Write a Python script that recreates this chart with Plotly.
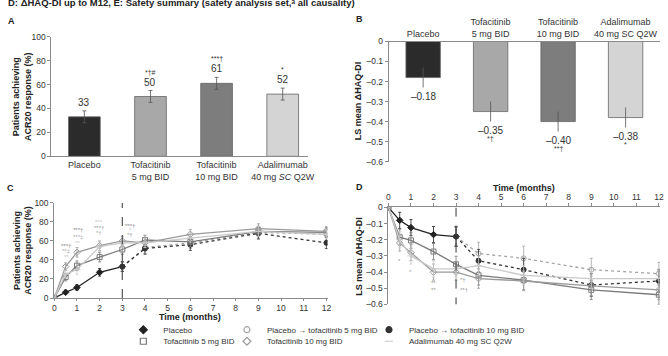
import plotly.graph_objects as go

W, H = 668, 356

# ---------------- data ----------------
bar_cats_a = ["Placebo", "Tofacitinib<br>5 mg BID", "Tofacitinib<br>10 mg BID", "Adalimumab<br>40 mg <i>SC</i> Q2W"]
acr20_pct = [33, 50, 61, 52]
acr20_err = [5, 5, 5, 5]
acr20_sig = ["", "*†#", "***†", "*"]

bar_cats_b = ["Placebo", "Tofacitinib<br>5 mg BID", "Tofacitinib<br>10 mg BID", "Adalimumab<br>40 mg SC Q2W"]
haq_change = [-0.18, -0.35, -0.40, -0.38]
haq_err = [0.05, 0.05, 0.05, 0.05]
haq_sig = ["", "*†", "**†", "*"]

bar_colors = ["#2b2b2b", "#a8a8a8", "#7d7d7d", "#d4d4d4"]

months = [0, 0.5, 1, 2, 3, 4, 6, 9, 12]
months_pbo = [0, 0.5, 1, 2, 3]
months_switch = [3, 4, 6, 9, 12]

acr_placebo = [0, 6, 11, 27, 33]
acr_placebo_err = [0, 2, 3, 4, 5]
acr_pbo_t5 = [33, 53, 58, 69, 67]
acr_pbo_t5_err = [5, 6, 6, 6, 6]
acr_pbo_t10 = [33, 52, 56, 68, 58]
acr_pbo_t10_err = [5, 6, 6, 6, 6]
acr_t5 = [0, 22, 34, 43, 51, 61, 59, 70, 69]
acr_t5_err = [0, 4, 5, 5, 5, 5, 5, 5, 5]
acr_t10 = [0, 33, 48, 55, 60, 58, 67, 73, 70]
acr_t10_err = [0, 4, 5, 5, 5, 5, 5, 5, 5]
acr_ada = [0, 25, 30, 54, 58, 58, 63, 70, 67]
acr_ada_err = [0, 4, 5, 5, 5, 5, 5, 5, 5]

haq_placebo = [0, -0.08, -0.125, -0.168, -0.18]
haq_placebo_err = [0, 0.05, 0.05, 0.05, 0.06]
haq_pbo_t5 = [-0.18, -0.285, -0.315, -0.385, -0.41]
haq_pbo_t5_err = [0.06, 0.07, 0.075, 0.07, 0.07]
haq_pbo_t10 = [-0.18, -0.33, -0.385, -0.48, -0.455]
haq_pbo_t10_err = [0.06, 0.07, 0.07, 0.07, 0.07]
haq_t5 = [0, -0.184, -0.204, -0.273, -0.352, -0.42, -0.45, -0.51, -0.54]
haq_t5_err = [0, 0.05, 0.05, 0.05, 0.05, 0.06, 0.06, 0.06, 0.06]
haq_t10 = [0, -0.22, -0.28, -0.40, -0.40, -0.44, -0.455, -0.485, -0.51]
haq_t10_err = [0, 0.05, 0.05, 0.05, 0.05, 0.06, 0.06, 0.06, 0.06]
haq_ada = [0, -0.20, -0.30, -0.38, -0.38, -0.36, -0.42, -0.44, -0.44]
haq_ada_err = [0, 0.05, 0.05, 0.05, 0.05, 0.06, 0.06, 0.06, 0.06]

sig_c_x = [0.52, 0.52, 0.52, 1.03, 1.03, 1.03, 1.96, 1.96, 1.96, 3.35, 3.35, 3.35]
sig_c_y = [55, 49, 43, 71, 64, 58, 80, 74, 68, 76, 71, 66]
sig_c_text = ["***†", "**‡", "**", "***†", "***‡", "**", "***", "***†", "*†", "***†", "*", "*†"]
sig_c_color = ["#888", "#aaa", "#c4c4c4", "#888", "#aaa", "#c4c4c4", "#c4c4c4", "#999", "#aaa", "#888", "#c4c4c4", "#999"]

sig_d_x = [0.5, 1.0, 2.0, 2.0, 3.3, 3.35]
sig_d_y = [-0.33, -0.40, -0.47, -0.51, -0.45, -0.51]
sig_d_text = ["*", "*", "**", "**", "*†", "**†"]

haq_ticks = [0, -0.1, -0.2, -0.3, -0.4, -0.5, -0.6]
haq_ticktext = ["0", "–0.1", "–0.2", "–0.3", "–0.4", "–0.5", "–0.6"]

FONT = "Arial, Liberation Sans, sans-serif"
AX = "#8a8a8a"


def fx(p):
    return p / W


def fy(p):
    return 1 - p / H


fig = go.Figure()

# ---------------- Panel A ----------------
fig.add_trace(go.Bar(
    x=bar_cats_a, y=acr20_pct, marker=dict(color=bar_colors, line=dict(color="#666", width=0.8)),
    width=0.48, error_y=dict(type="data", array=acr20_err, color="#555", thickness=0.8, width=2),
    xaxis="x", yaxis="y", showlegend=False))

# ---------------- Panel B ----------------
fig.add_trace(go.Bar(
    x=bar_cats_b, y=haq_change, marker=dict(color=bar_colors, line=dict(color="#666", width=0.8)),
    width=0.51, error_y=dict(type="data", array=haq_err, color="#555", thickness=0.8, width=0),
    xaxis="x2", yaxis="y2", showlegend=False))

# ---------------- Panels C / D ----------------
series = [
    ("Placebo", months_pbo, acr_placebo, acr_placebo_err, haq_placebo, haq_placebo_err, "#222", "diamond", "solid", "legend"),
    ("Placebo → tofacitinib 5 mg BID", months_switch, acr_pbo_t5, acr_pbo_t5_err, haq_pbo_t5, haq_pbo_t5_err, "#a5a5a5", "circle-open", "dot", "legend2"),
    ("Placebo → tofacitinib 10 mg BID", months_switch, acr_pbo_t10, acr_pbo_t10_err, haq_pbo_t10, haq_pbo_t10_err, "#333", "circle", "dot", "legend3"),
    ("Tofacitinib 5 mg BID", months, acr_t5, acr_t5_err, haq_t5, haq_t5_err, "#7a7a7a", "square-open", "solid", "legend4"),
    ("Tofacitinib 10 mg BID", months, acr_t10, acr_t10_err, haq_t10, haq_t10_err, "#9a9a9a", "diamond-open", "solid", "legend5"),
    ("Adalimumab 40 mg SC Q2W", months, acr_ada, acr_ada_err, haq_ada, haq_ada_err, "#c9c9c9", "line-ew", "solid", "legend6"),
]

for name, xs, cv, ce, dv, de, col, sym, dash, leg in series:
    mk = dict(symbol=sym, size=5, color=col, line=dict(color=col, width=1))
    fig.add_trace(go.Scatter(
        x=xs, y=cv, name=name, mode="lines+markers",
        line=dict(color=col, width=1.3, dash=dash), marker=mk,
        error_y=dict(type="data", array=ce, color=col, thickness=0.8, width=1.5),
        xaxis="x3", yaxis="y3", showlegend=False))
    fig.add_trace(go.Scatter(
        x=xs, y=dv, name=name, mode="lines+markers",
        line=dict(color=col, width=1.3, dash=dash), marker=mk,
        error_y=dict(type="data", array=de, color=col, thickness=0.8, width=1.5),
        xaxis="x4", yaxis="y4", showlegend=False))
    # compact legend key (marker only) for this series
    fig.add_trace(go.Scatter(
        x=[None], y=[None], name=name, mode="markers",
        marker=dict(symbol=sym, size=6, color=col, line=dict(color=col, width=1.2)),
        xaxis="x3", yaxis="y3", legend=leg, showlegend=True, hoverinfo="skip"))

# ---------------- axes ----------------
tickfont = dict(family=FONT, size=8.5, color="#333")
common = dict(showgrid=False, zeroline=False, showline=True, linecolor=AX, linewidth=1,
              tickfont=tickfont, tickcolor=AX, ticklen=3)

fig.update_layout(
    xaxis=dict(domain=[fx(50), fx(310)], range=[-0.5, 3.38], type="category", anchor="y",
               ticks="", **common),
    yaxis=dict(domain=[fy(157.5), fy(33)], range=[0, 100], dtick=20, ticks="outside", anchor="x",
               **common),
    xaxis2=dict(domain=[fx(392), fx(667)], range=[-0.51, 3.51], type="category", anchor="y2",
                side="top", ticks="", **common),
    yaxis2=dict(domain=[fy(163), fy(38)], range=[-0.6, 0], tickvals=haq_ticks, ticktext=haq_ticktext,
                ticks="outside", anchor="x2", **common),
    xaxis3=dict(domain=[fx(53), fx(330)], range=[0, 12.05], dtick=1, ticks="outside", anchor="y3",
                **common),
    yaxis3=dict(domain=[fy(305), fy(206)], range=[0, 100], dtick=20, ticks="outside", anchor="x3",
                **common),
    xaxis4=dict(domain=[fx(391.7), fx(667)], range=[0, 12.05], dtick=1, ticks="outside", anchor="y4",
                side="top", **common),
    yaxis4=dict(domain=[fy(311.7), fy(210.7)], range=[-0.6, 0], tickvals=haq_ticks, ticktext=haq_ticktext,
                ticks="outside", anchor="x4", **common),
)
fig.layout.xaxis3.ticklen = 2
fig.layout.xaxis.tickfont.size = 9
fig.layout.xaxis2.tickfont.size = 9

# dashed vertical lines at month 3
fig.add_shape(type="line", xref="x3", yref="y3", x0=3, x1=3, y0=0, y1=100,
              line=dict(color="#555", width=1.2, dash="dash"))
fig.add_shape(type="line", xref="x4", yref="y4", x0=3, x1=3, y0=0, y1=-0.6,
              line=dict(color="#555", width=1.2, dash="dash"))

ann = []
for c, v, e, s in zip(bar_cats_a, acr20_pct, acr20_err, acr20_sig):
    ann.append(dict(x=c, y=v + e, xref="x", yref="y", text=str(v), showarrow=False,
                    yanchor="bottom", yshift=1, font=dict(family=FONT, size=10, color="#333")))
    if s:
        ann.append(dict(x=c, y=v + e, xref="x", yref="y", text=s, showarrow=False,
                        yanchor="bottom", yshift=13, font=dict(family=FONT, size=7, color="#333")))
for c, v, e, s in zip(bar_cats_b, haq_change, haq_err, haq_sig):
    ann.append(dict(x=c, y=v - e, xref="x2", yref="y2", text="–%.2f" % abs(v), showarrow=False,
                    yanchor="top", yshift=-1, font=dict(family=FONT, size=10, color="#333")))
    if s:
        ann.append(dict(x=c, y=v - e, xref="x2", yref="y2", text=s, showarrow=False,
                        yanchor="top", yshift=-11, font=dict(family=FONT, size=7, color="#333")))
for x, y, t, c in zip(sig_c_x, sig_c_y, sig_c_text, sig_c_color):
    ann.append(dict(x=x, y=y, xref="x3", yref="y3", text=t, showarrow=False,
                    font=dict(family=FONT, size=6, color=c)))
for x, y, t in zip(sig_d_x, sig_d_y, sig_d_text):
    ann.append(dict(x=x, y=y, xref="x4", yref="y4", text=t, showarrow=False,
                    font=dict(family=FONT, size=6, color="#999")))


def pa(x, y, text, size=9, angle=0, bold=True, xanchor="center", yanchor="middle"):
    ann.append(dict(x=fx(x), y=fy(y), xref="paper", yref="paper", text=("<b>%s</b>" % text) if bold else text,
                    showarrow=False, textangle=angle, xanchor=xanchor, yanchor=yanchor,
                    font=dict(family=FONT, size=size, color="#222")))


pa(4, -2.5, "D: ΔHAQ-DI up to M12, E: Safety summary (safety analysis set,ᵃ all causality)",
   size=9.5, xanchor="left")
pa(10, 17, "A", size=9)
pa(362, 15, "B", size=9)
pa(9, 191, "C", size=9)
pa(362, 189, "D", size=9)
pa(21, 95, "Patients achieving<br>ACR20 response (%)", size=9, angle=-90)
pa(21, 255, "Patients achieving<br>ACR20 response (%)", size=9, angle=-90)
pa(361, 100, "LS mean ΔHAQ-DI", size=9, angle=-90)
pa(362, 262, "LS mean ΔHAQ-DI", size=9, angle=-90)
pa(191, 325, "Time (months)", size=9)
pa(529, 190, "Time (months)", size=9)

fig.update_layout(annotations=ann)

# legends: text start x positions per entry
leg_pos = {"legend": (159, 338), "legend2": (264, 338), "legend3": (408, 338),
           "legend4": (159, 350), "legend5": (264, 350), "legend6": (408, 350)}
for k, (x, y) in leg_pos.items():
    fig.update_layout({k: dict(x=fx(x - 36), y=fy(y), xanchor="left", yanchor="middle",
                               bgcolor="rgba(0,0,0,0)", borderwidth=0, itemwidth=30,
                               font=dict(family=FONT, size=8, color="#333"),
                               tracegroupgap=0)})

fig.update_layout(width=W, height=H, margin=dict(l=0, r=0, t=0, b=0),
                  paper_bgcolor="white", plot_bgcolor="white",
                  font=dict(family=FONT, size=9, color="#333"), bargap=0.3)

fig.write_html("out.html", config={"displayModeBar": False},
               post_script="document.body.style.margin='0';")
